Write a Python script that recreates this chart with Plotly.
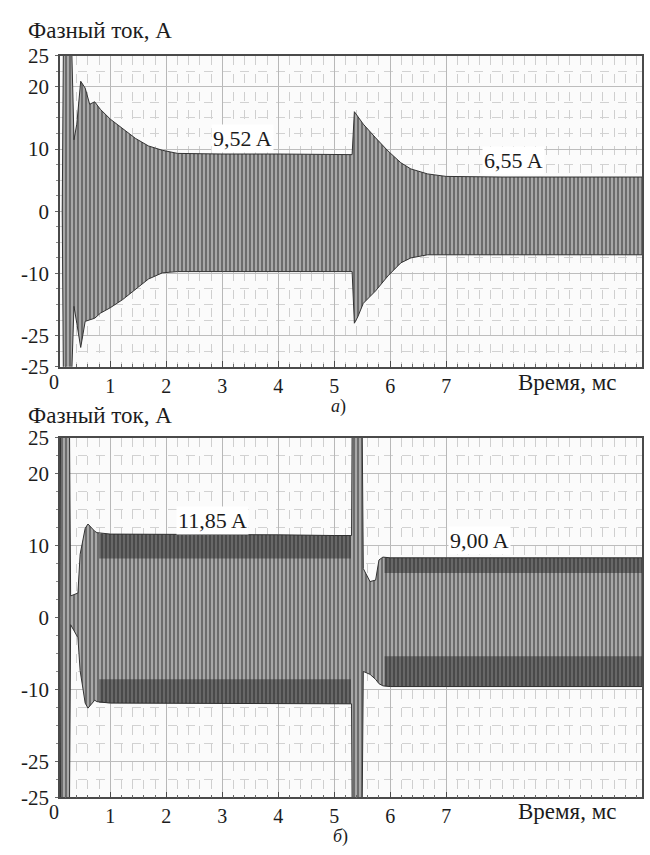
import plotly.graph_objects as go

# ---------------- data ----------------
# Panel а): envelope of the phase current (time in ms, current in A)
t_a = [0.14, 0.16, 0.31, 0.35, 0.40, 0.47, 0.55, 0.63, 0.72, 0.82, 1.00, 1.22,
       1.45, 1.68, 1.93, 2.20, 3.00, 4.00, 5.00, 5.32, 5.36, 5.42, 5.52, 5.74,
       5.96, 6.19, 6.37, 6.67, 6.80, 7.00, 8.00, 9.00, 10.50]
upper_a = [0.0, 26.0, 26.0, 11.5, 14.0, 20.9, 19.8, 17.2, 17.6, 16.4, 14.8, 13.3,
           11.7, 10.5, 9.8, 9.3, 9.2, 9.2, 9.1, 9.1, 16.0, 15.2, 14.0, 11.8,
           9.7, 7.8, 6.8, 6.0, 5.8, 5.6, 5.5, 5.5, 5.5]
lower_a = [0.0, -26.0, -26.0, -15.3, -18.0, -21.9, -17.7, -17.5, -17.2, -16.4, -15.5, -14.2,
           -12.5, -10.9, -9.9, -9.7, -9.7, -9.7, -9.7, -9.7, -18.0, -17.0, -14.8, -12.8,
           -10.4, -8.3, -7.5, -7.0, -7.0, -7.0, -7.0, -7.0, -7.0]

# Panel б): envelope of the phase current
t_b = [0.10, 0.11, 0.27, 0.29, 0.42, 0.46, 0.55, 0.60, 0.72, 0.76, 1.00, 2.00,
       3.00, 4.00, 5.00, 5.31, 5.32, 5.50, 5.52, 5.64, 5.74, 5.80, 5.87, 6.00,
       7.00, 8.00, 9.00, 10.50]
upper_b = [0.0, 26.0, 26.0, 3.0, 3.4, 8.8, 12.4, 13.0, 12.0, 11.8, 11.6, 11.6,
           11.5, 11.5, 11.4, 11.4, 26.0, 26.0, 6.8, 5.0, 5.2, 8.0, 8.4, 8.3,
           8.3, 8.3, 8.3, 8.3]
lower_b = [0.0, -26.0, -26.0, -1.0, -2.8, -7.4, -11.9, -12.6, -11.5, -11.7, -11.9, -11.9,
           -12.0, -12.0, -12.0, -12.0, -26.0, -26.0, -7.5, -7.9, -8.6, -9.2, -9.5, -9.6,
           -9.6, -9.6, -9.6, -9.6]

# darker bands along the envelope in panel б)
tb_band1 = [0.80, 5.30]
band1_up_outer = [11.6, 11.4]
band1_up_inner = [8.2, 8.2]
band1_lo_inner = [-8.6, -8.6]
band1_lo_outer = [-11.9, -12.0]
tb_band2 = [5.90, 10.50]
band2_up_outer = [8.3, 8.3]
band2_up_inner = [6.2, 6.2]
band2_lo_inner = [-5.4, -5.4]
band2_lo_outer = [-9.6, -9.6]

x_ticks = [0, 1, 2, 3, 4, 5, 6, 7]
y_ticks = [25, 20, 10, 0, -10, -20, -25]
y_ticktext = ["25", "20", "10", "0", "-10", "-25", "-25"]

labels_a = [("9,52 A", 3.37, 11.7), ("6,55 A", 8.20, 8.1)]
labels_b = [("11,85 A", 2.83, 13.5), ("9,00 A", 7.60, 10.7)]

# ---------------- figure ----------------
W, H = 650, 855
FONT = "Times New Roman, Times, Liberation Serif, DejaVu Serif, serif"
TXT = "#1c1c1c"
FS = 21
fig = go.Figure()

pattern = dict(shape="|", size=4, solidity=0.5, fgcolor="#303030", bgcolor="#a8a8a8")


def add_band(t, lo, up, xa, ya, fillpat=None, fillcolor=None, linecolor="#333333", lw=1.0):
    fig.add_trace(go.Scatter(x=t, y=lo, mode="lines", line=dict(color=linecolor, width=lw),
                             xaxis=xa, yaxis=ya, showlegend=False, hoverinfo="skip"))
    kw = dict(fill="tonexty")
    if fillpat is not None:
        kw["fillpattern"] = fillpat
    if fillcolor is not None:
        kw["fillcolor"] = fillcolor
    fig.add_trace(go.Scatter(x=t, y=up, mode="lines", line=dict(color=linecolor, width=lw),
                             xaxis=xa, yaxis=ya, showlegend=False, hoverinfo="skip", **kw))


# panel a
add_band(t_a, lower_a, upper_a, "x", "y", fillpat=pattern)
# panel b
add_band(t_b, lower_b, upper_b, "x2", "y2", fillpat=pattern)
dark = "rgba(40,40,40,0.5)"
add_band(tb_band1, band1_up_inner, band1_up_outer, "x2", "y2", fillcolor=dark, linecolor="rgba(0,0,0,0)", lw=0)
add_band(tb_band1, band1_lo_outer, band1_lo_inner, "x2", "y2", fillcolor=dark, linecolor="rgba(0,0,0,0)", lw=0)
add_band(tb_band2, band2_up_inner, band2_up_outer, "x2", "y2", fillcolor=dark, linecolor="rgba(0,0,0,0)", lw=0)
add_band(tb_band2, band2_lo_outer, band2_lo_inner, "x2", "y2", fillcolor=dark, linecolor="rgba(0,0,0,0)", lw=0)

XR = [0.10, 10.50]
xdom = [60 / W, 642 / W]
ydom_a = [1 - 365 / H, 1 - 45 / H]
ydom_b = [1 - 808 / H, 1 - 438 / H]

xcommon = dict(range=XR, tickmode="array", tickvals=x_ticks,
               ticktext=[str(v) for v in x_ticks],
               tickfont=dict(family=FONT, size=20, color=TXT),
               showline=True, mirror=True, linecolor="#4a4a4a", linewidth=1.5,
               ticks="inside", ticklen=6, tickcolor="#4a4a4a",
               showgrid=True, gridcolor="#b8b8b8", gridwidth=1,
               minor=dict(tick0=0, dtick=0.2, showgrid=True, gridcolor="#cfcfcf",
                          griddash="dash", ticks="inside", ticklen=3, tickcolor="#666"),
               zeroline=False, domain=xdom, ticklabelstandoff=0)
ycommon = dict(range=[-25, 25], tickmode="array", tickvals=y_ticks, ticktext=y_ticktext,
               tickfont=dict(family=FONT, size=FS, color=TXT),
               showline=True, mirror=True, linecolor="#4a4a4a", linewidth=1.5,
               ticks="outside", ticklen=3, tickcolor="#666",
               showgrid=True, gridcolor="#bdbdbd", gridwidth=1,
               minor=dict(tick0=0, dtick=2.5, showgrid=True, gridcolor="#d2d2d2",
                          griddash="dash", ticks="outside", ticklen=2, tickcolor="#888"),
               ticklabelstandoff=2)

fig.update_layout(
    width=W, height=H, margin=dict(l=0, r=0, t=0, b=0),
    paper_bgcolor="white", plot_bgcolor="#fbfbfb",
    font=dict(family=FONT),
    xaxis=dict(anchor="y", **xcommon),
    yaxis=dict(anchor="x", domain=ydom_a, zeroline=False, **ycommon),
    xaxis2=dict(anchor="y2", **xcommon),
    yaxis2=dict(anchor="x2", domain=ydom_b, zeroline=True, zerolinecolor="#444",
                zerolinewidth=1.5, **ycommon),
)

ann = []
for txt, xv, yv in labels_a:
    ann.append(dict(text=txt, x=xv, y=yv, xref="x", yref="y", showarrow=False,
                    font=dict(family=FONT, size=22, color=TXT), bgcolor="white"))
for txt, xv, yv in labels_b:
    ann.append(dict(text=txt, x=xv, y=yv, xref="x2", yref="y2", showarrow=False,
                    font=dict(family=FONT, size=22, color=TXT), bgcolor="white"))


def pann(txt, x, y, size=22, **kw):
    d = dict(text=txt, x=x / W, y=1 - y / H, xref="paper", yref="paper", showarrow=False,
             font=dict(family=FONT, size=size, color=TXT))
    d.update(kw)
    return d


# the "0" time label sits just left of the plotted range: place it via the axis scale
x0_paper = xdom[0] + (x_ticks[0] - XR[0]) / (XR[1] - XR[0]) * (xdom[1] - xdom[0])
for ypx in (381, 823):
    ann.append(dict(text=str(x_ticks[0]), x=x0_paper, xref="paper", y=1 - ypx / H, yref="paper",
                    showarrow=False, font=dict(family=FONT, size=20, color=TXT),
                    xanchor="center", yanchor="middle"))

ann += [
    pann("Фазный ток, А", 26, 19, size=23, xanchor="left", yanchor="middle"),
    pann("Фазный ток, А", 26, 415, size=23, xanchor="left", yanchor="middle"),
    pann("Время, мс", 567, 381, size=23, xanchor="center", yanchor="middle"),
    pann("Время, мс", 567, 823, size=23, xanchor="center", yanchor="middle"),
    pann("<i>а</i>)", 338, 406, size=18, xanchor="center", yanchor="middle"),
    pann("<i>б</i>)", 340, 848, size=18, xanchor="center", yanchor="middle"),
]
fig.update_layout(annotations=ann)

fig.write_html("out.html")
